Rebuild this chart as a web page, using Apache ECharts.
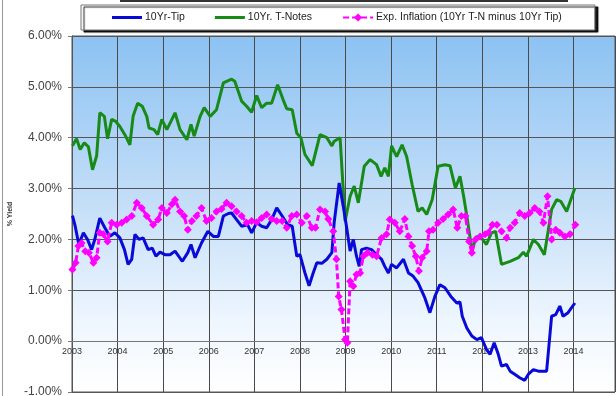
<!DOCTYPE html>
<html>
<head>
<meta charset="utf-8">
<script src="https://cdn.jsdelivr.net/npm/echarts@6/dist/echarts.min.js"></script>
<style>html,body{margin:0;padding:0;background:#fff;}#c{width:616px;height:396px;}</style>
</head>
<body>
<div id="c"></div>
<script>
// Y-axis ticks (percent)
var yTicks = [-1, 0, 1, 2, 3, 4, 5, 6];
var xYears = [2003, 2004, 2005, 2006, 2007, 2008, 2009, 2010, 2011, 2012, 2013, 2014];

// 10Yr-Tip (decimal year, yield %)
var tipYears = [2003.01,2003.07,2003.15,2003.25,2003.34,2003.43,2003.50,2003.61,2003.72,2003.83,2003.94,2004.05,2004.15,2004.23,2004.31,2004.38,2004.47,2004.56,2004.67,2004.76,2004.84,2004.93,2005.04,2005.15,2005.26,2005.42,2005.54,2005.61,2005.70,2005.84,2005.98,2006.10,2006.21,2006.32,2006.43,2006.50,2006.61,2006.72,2006.85,2006.94,2007.05,2007.16,2007.27,2007.38,2007.49,2007.61,2007.73,2007.83,2007.93,2008.00,2008.11,2008.20,2008.29,2008.37,2008.48,2008.59,2008.70,2008.75,2008.86,2008.95,2009.02,2009.10,2009.17,2009.24,2009.30,2009.35,2009.46,2009.57,2009.68,2009.79,2009.86,2009.94,2010.01,2010.12,2010.27,2010.38,2010.48,2010.59,2010.74,2010.85,2010.96,2011.07,2011.18,2011.31,2011.44,2011.51,2011.56,2011.66,2011.77,2011.88,2011.98,2012.09,2012.17,2012.26,2012.35,2012.42,2012.53,2012.61,2012.71,2012.82,2012.93,2013.01,2013.12,2013.23,2013.41,2013.52,2013.61,2013.70,2013.77,2013.88,2014.03];
var tipVals = [2.47,2.26,1.90,2.13,2.00,1.80,2.00,2.42,2.23,2.06,2.13,2.03,1.80,1.51,1.61,2.10,2.00,2.03,1.80,1.83,1.67,1.75,1.70,1.70,1.77,1.57,1.74,1.90,1.64,1.93,2.16,2.06,2.06,2.46,2.51,2.52,2.39,2.26,2.29,2.13,2.33,2.26,2.23,2.39,2.62,2.46,2.29,2.26,1.67,1.70,1.34,1.09,1.34,1.54,1.53,1.61,1.74,2.33,3.11,2.65,2.26,1.77,2.00,1.67,1.47,1.80,1.83,1.80,1.70,1.61,1.47,1.34,1.51,1.44,1.61,1.34,1.28,1.15,0.85,0.56,0.88,1.11,1.05,0.88,0.75,0.77,0.49,0.26,0.10,0.03,0.07,-0.16,-0.26,-0.03,-0.26,-0.49,-0.46,-0.59,-0.65,-0.72,-0.77,-0.65,-0.56,-0.59,-0.59,0.49,0.52,0.69,0.49,0.56,0.75];

// 10Yr. T-Notes
var noteYears = [2003.01,2003.10,2003.18,2003.27,2003.36,2003.45,2003.54,2003.61,2003.71,2003.78,2003.87,2003.96,2004.05,2004.16,2004.27,2004.34,2004.44,2004.54,2004.64,2004.69,2004.80,2004.88,2004.97,2005.08,2005.17,2005.26,2005.37,2005.52,2005.61,2005.68,2005.81,2005.90,2006.03,2006.17,2006.32,2006.50,2006.57,2006.72,2006.83,2006.94,2007.05,2007.16,2007.27,2007.38,2007.51,2007.63,2007.71,2007.83,2007.93,2008.02,2008.11,2008.27,2008.44,2008.59,2008.70,2008.75,2008.88,2008.99,2009.10,2009.19,2009.28,2009.41,2009.54,2009.68,2009.78,2009.86,2009.94,2010.01,2010.12,2010.24,2010.34,2010.46,2010.59,2010.68,2010.78,2010.90,2011.03,2011.18,2011.29,2011.41,2011.51,2011.59,2011.66,2011.77,2011.88,2011.98,2012.09,2012.20,2012.29,2012.42,2012.61,2012.79,2012.90,2012.97,2013.12,2013.23,2013.36,2013.52,2013.63,2013.72,2013.85,2014.03];
var noteVals = [3.84,3.98,3.77,3.90,3.82,3.37,3.64,4.49,4.42,3.98,4.36,4.32,4.22,4.06,3.86,4.42,4.68,4.62,4.42,4.19,4.16,4.06,4.36,4.16,4.32,4.49,4.16,3.96,4.26,4.03,4.42,4.59,4.42,4.55,5.08,5.15,5.11,4.72,4.62,4.50,4.83,4.59,4.68,4.68,5.04,4.75,4.57,4.55,4.09,4.00,3.67,3.45,4.06,4.00,3.84,3.93,4.00,2.36,2.85,3.05,2.72,3.44,3.57,3.47,3.24,3.41,3.24,3.84,3.63,3.86,3.63,3.08,2.55,2.62,2.49,2.78,3.44,3.47,3.45,3.01,3.24,2.85,2.46,1.80,2.06,2.03,1.90,2.13,2.16,1.51,1.57,1.64,1.75,1.67,2.00,1.90,1.70,2.59,2.78,2.75,2.55,3.01];

// Exp. Inflation (10Yr T-N minus 10Yr Tip)
var inflYears = [2003.01,2003.08,2003.14,2003.21,2003.29,2003.37,2003.47,2003.54,2003.61,2003.69,2003.78,2003.87,2003.98,2004.09,2004.20,2004.31,2004.42,2004.53,2004.64,2004.78,2004.89,2004.97,2005.08,2005.19,2005.26,2005.37,2005.46,2005.54,2005.63,2005.73,2005.84,2005.95,2006.06,2006.17,2006.28,2006.39,2006.50,2006.61,2006.72,2006.83,2006.94,2007.05,2007.16,2007.27,2007.38,2007.49,2007.61,2007.71,2007.82,2007.93,2008.04,2008.15,2008.26,2008.34,2008.44,2008.55,2008.62,2008.73,2008.80,2008.85,2008.91,2008.99,2009.04,2009.10,2009.17,2009.24,2009.32,2009.39,2009.48,2009.59,2009.68,2009.79,2009.90,2009.97,2010.08,2010.19,2010.30,2010.38,2010.46,2010.54,2010.61,2010.68,2010.78,2010.83,2010.92,2011.03,2011.14,2011.25,2011.36,2011.45,2011.54,2011.63,2011.71,2011.77,2011.85,2011.95,2012.06,2012.13,2012.22,2012.32,2012.42,2012.53,2012.61,2012.71,2012.82,2012.93,2013.04,2013.15,2013.25,2013.34,2013.43,2013.52,2013.61,2013.70,2013.81,2013.92,2014.04];
var inflVals = [1.41,1.54,1.87,1.93,1.77,1.74,1.54,1.64,2.13,2.10,1.96,2.33,2.29,2.33,2.39,2.46,2.72,2.62,2.46,2.29,2.39,2.62,2.52,2.69,2.78,2.55,2.46,2.19,2.36,2.46,2.62,2.36,2.42,2.55,2.60,2.72,2.65,2.55,2.46,2.33,2.36,2.34,2.42,2.49,2.40,2.36,2.36,2.23,2.46,2.49,2.33,2.46,2.23,2.23,2.59,2.55,2.40,2.16,1.61,0.88,0.62,0.03,-0.03,1.18,1.08,1.31,1.34,1.67,1.74,1.70,1.67,2.03,2.10,2.39,2.33,2.16,2.40,2.06,1.87,1.67,1.38,1.64,1.77,2.16,2.19,2.33,2.40,2.49,2.59,2.23,2.46,2.46,1.96,1.74,2.00,2.06,2.10,2.13,2.29,2.29,2.16,2.03,2.23,2.33,2.52,2.46,2.52,2.62,2.55,2.33,2.85,2.00,2.19,2.13,2.06,2.10,2.29];

function zip(xs, ys) { return xs.map(function (x, i) { return [x, ys[i]]; }); }

var lineIcon = 'path://M0,0L30,0M0,3.5L30,3.5L30,6.5L0,6.5ZM0,10L30,10';

var GRID_TOP = 36, GRID_BOTTOM_Y = 392;
// put the x axis (line + labels) at the y = 0 level of the value axis
var zeroOffset = -(GRID_BOTTOM_Y - GRID_TOP) * (0 - yTicks[0]) / (yTicks[yTicks.length - 1] - yTicks[0]);

var chart = echarts.init(document.getElementById('c'), null, { renderer: 'canvas' });
chart.setOption({
  animation: false,
  backgroundColor: '#ffffff',
  textStyle: { fontFamily: 'Liberation Sans, Arial, sans-serif' },
  grid: {
    left: 72, top: GRID_TOP, right: 1, bottom: 396 - GRID_BOTTOM_Y,
    outerBounds: { left: -100, top: -100, right: -100, bottom: -100 },
    show: true,
    borderColor: '#555', borderWidth: 1,
    backgroundColor: new echarts.graphic.LinearGradient(0, 0, 0, 1, [
      { offset: 0, color: '#8cc2f2' },
      { offset: 0.45, color: '#c2ddf8' },
      { offset: 0.8, color: '#eef6fe' },
      { offset: 1, color: '#ffffff' }
    ])
  },
  legend: {
    left: 81, top: 5,
    padding: [7, 33, 7, 31],
    itemGap: 30,
    itemWidth: 30, itemHeight: 10,
    backgroundColor: '#ffffff',
    borderColor: '#777', borderWidth: 1, borderRadius: 0,
    shadowColor: 'rgba(0,0,0,0.9)', shadowBlur: 1, shadowOffsetX: 3, shadowOffsetY: 2,
    textStyle: { fontSize: 10.5, color: '#222', padding: [0, 0, 0, -2] },
    data: [
      { name: '10Yr-Tip', icon: lineIcon, itemStyle: { borderWidth: 0 } },
      { name: '10Yr. T-Notes', icon: lineIcon, itemStyle: { borderWidth: 0 } },
      { name: 'Exp. Inflation (10Yr T-N minus 10Yr Tip)' }
    ]
  },
  xAxis: {
    type: 'value',
    position: 'bottom',
    offset: zeroOffset,
    min: 2003, max: 2014.91, interval: 1,
    axisLine: { onZero: false, lineStyle: { color: '#777', width: 1 } },
    axisTick: { show: false },
    axisLabel: {
      fontSize: 9, color: '#333', margin: 6,
      showMaxLabel: false,
      formatter: function (v) { return xYears.indexOf(v) >= 0 ? String(v) : ''; }
    },
    splitLine: { show: true, lineStyle: { color: '#4a4a4a', width: 1 } }
  },
  yAxis: {
    type: 'value',
    min: yTicks[0], max: yTicks[yTicks.length - 1], interval: 1,
    name: '% Yield', nameLocation: 'middle', nameGap: 58, nameRotate: 90,
    nameTextStyle: { fontSize: 7, color: '#333', fontWeight: 'bold' },
    axisLine: { show: true, onZero: false, lineStyle: { color: '#555' } },
    axisTick: { show: true, length: 4, lineStyle: { color: '#777' } },
    axisLabel: { fontSize: 12, color: '#444', margin: 10,
      formatter: function (v) { return v.toFixed(2) + '%'; } },
    splitLine: { show: true, lineStyle: { color: '#555', width: 1 } }
  },
  series: [
    {
      name: '10Yr-Tip', type: 'line', data: zip(tipYears, tipVals),
      symbol: 'none', lineStyle: { color: '#0a0ad8', width: 3 }, itemStyle: { color: '#0a0ad8' }, z: 3
    },
    {
      name: '10Yr. T-Notes', type: 'line', data: zip(noteYears, noteVals),
      symbol: 'none', lineStyle: { color: '#178a17', width: 3 }, itemStyle: { color: '#178a17' }, z: 2
    },
    {
      name: 'Exp. Inflation (10Yr T-N minus 10Yr Tip)', type: 'line', data: zip(inflYears, inflVals),
      symbol: 'diamond', symbolSize: 8, showSymbol: true,
      lineStyle: { color: '#ff00ff', width: 3, type: [6, 3] },
      itemStyle: { color: '#ff00ff' }, z: 4
    }
  ],
  graphic: [
    { type: 'rect', shape: { x: 120, y: 0, width: 448, height: 2 }, style: { fill: '#333' }, silent: true },
    { type: 'rect', shape: { x: 2, y: 0, width: 1, height: 396 }, style: { fill: '#999' }, silent: true }
  ]
});
</script>
</body>
</html>
